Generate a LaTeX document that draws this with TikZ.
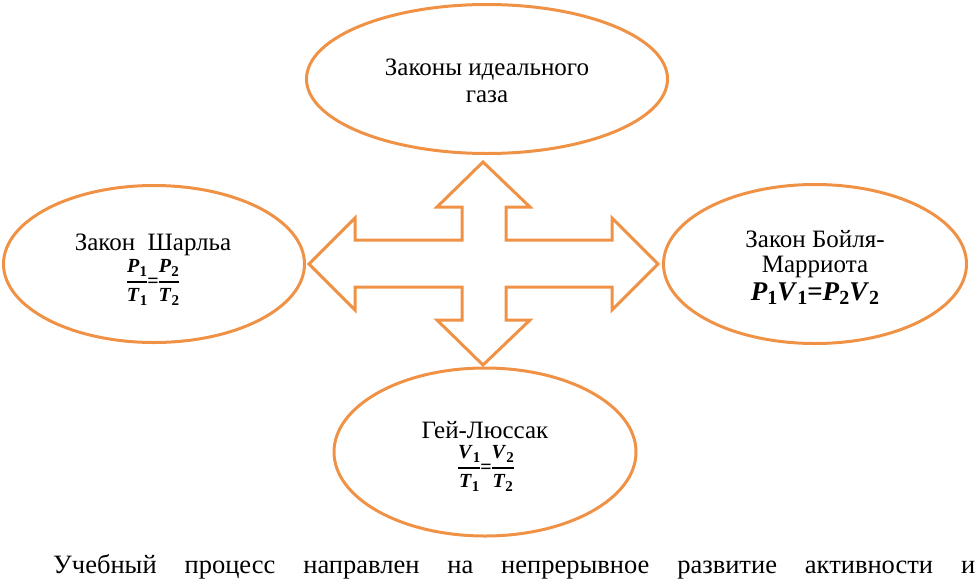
\documentclass[tikz,border=0pt]{standalone}
\usepackage{fontspec}
\setmainfont{Liberation Serif}
\usetikzlibrary{shapes.geometric}
\definecolor{orng}{RGB}{240,146,70}
\newcommand\fsym[2]{\textbf{\textit{#1}}\raisebox{-4pt}{\fontsize{15}{15}\selectfont\bfseries #2}}
\newcommand\rsym[2]{\textbf{\textit{#1}}\raisebox{-4pt}{\fontsize{20}{20}\selectfont\bfseries #2}}
\newcommand\ffrac[2]{{\mbox{#1}\above 1.5pt\mbox{#2}}}
\begin{document}
\begin{tikzpicture}[x=1pt,y=-1pt,
  oval/.style={ellipse, draw=orng, line width=3pt, inner sep=0pt},
  txt/.style={anchor=base, inner sep=0pt, font=\fontsize{25}{30}\selectfont},
  frm/.style={anchor=base, inner sep=0pt, font=\fontsize{20}{24}\selectfont},
  cross/.style={draw=orng, line width=3pt, line join=miter}]
\useasboundingbox (0,0) rectangle (979,579);
% ellipses
\node[oval, minimum width=361pt, minimum height=149pt] (ideal) at (487,79) {};
\node[oval, minimum width=301pt, minimum height=157pt] (charles) at (154,264) {};
\node[oval, minimum width=303pt, minimum height=159pt] (boyle) at (815,264) {};
\node[oval, minimum width=302pt, minimum height=168pt] (gay) at (485,452) {};
% texts
\node[txt] (ideal1) at (487,75) {Законы идеального};
\node[txt] (ideal2) at (487,102) {газа};
\node[txt] (charles1) at (153,250) {Закон\ \ Шарльа};
\node[frm] (charles2) at (153,287)
  {$\nulldelimiterspace=0pt\displaystyle\ffrac{\fsym P1}{\fsym T1}\mbox{\bfseries =}\ffrac{\fsym P2}{\fsym T2}$};
\node[txt] (boyle1) at (815,247) {Закон Бойля-};
\node[txt] (boyle2) at (815,272) {Марриота};
\node[txt, font=\fontsize{27}{30}\selectfont] (boyle3) at (815,300)
  {\rsym P1\rsym V1\textbf{=}\rsym P2\rsym V2};
\node[txt] (gay1) at (485,438) {Гей-Люссак};
\node[frm] (gay2) at (486,473)
  {$\nulldelimiterspace=0pt\displaystyle\ffrac{\fsym V1}{\fsym T1}\mbox{\bfseries =}\ffrac{\fsym V2}{\fsym T2}$};
% four-way arrow
\draw[cross] (483,162) -- (530,207) -- (506,207) -- (506,240) -- (612,240)
  -- (612,218) -- (658,264) -- (612,310) -- (612,287) -- (506,287) -- (506,320)
  -- (530,320) -- (483,365) -- (437,320) -- (462,320) -- (462,287) -- (355,287)
  -- (355,310) -- (309,264) -- (355,218) -- (355,240) -- (462,240) -- (462,207)
  -- (437,207) -- cycle;
% paragraph line
\node[anchor=base west, inner sep=0pt, font=\fontsize{26.5}{30}\selectfont] (para) at (53,573)
  {\makebox[922pt][s]{Учебный процесс направлен на непрерывное развитие активности и}};
\end{tikzpicture}
\end{document}
